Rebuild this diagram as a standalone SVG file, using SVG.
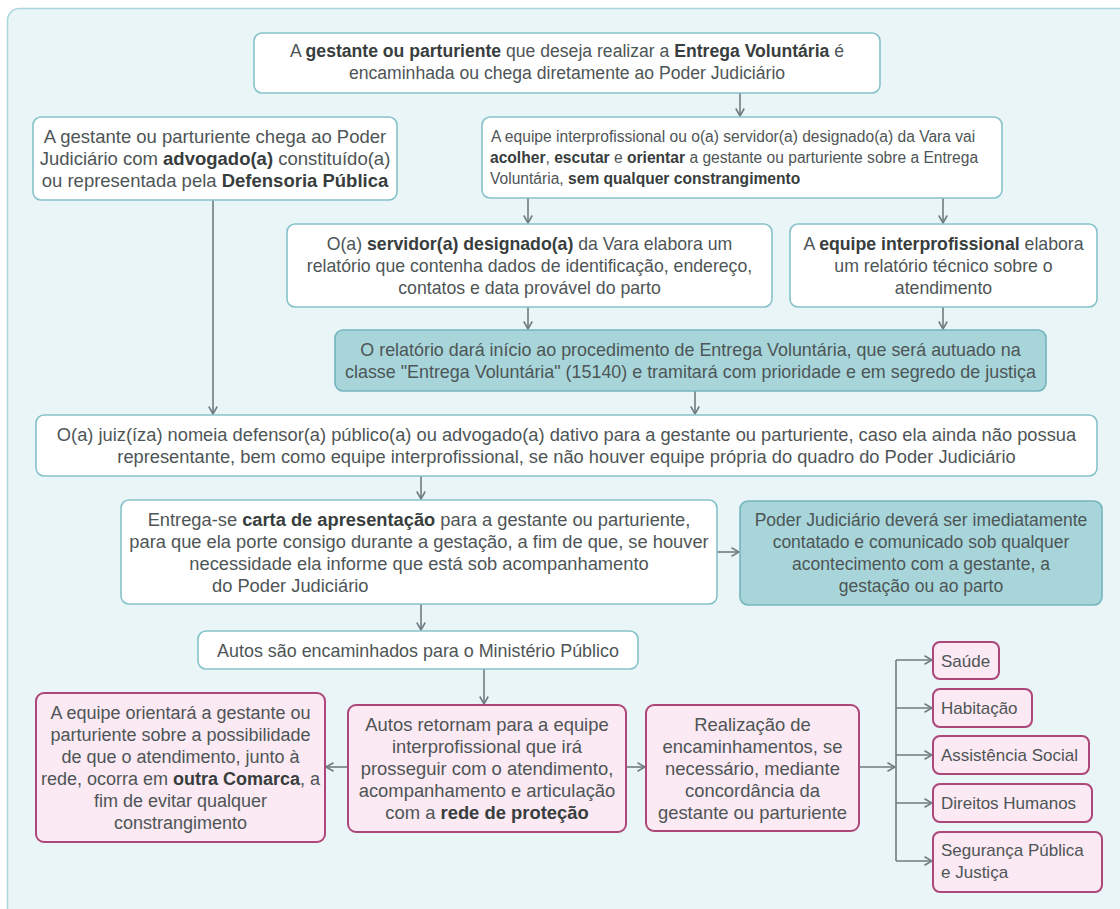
<svg xmlns="http://www.w3.org/2000/svg" width="1120" height="909" viewBox="0 0 1120 909">
  <defs>
    <style>
      text { font-family: "Liberation Sans", Arial, sans-serif; fill: #4e5556; font-size: 18.3px; }
      .c { text-anchor: middle; }
      .s { text-anchor: start; }
      .b { font-weight: bold; fill: #383d3e; }
      .box { fill: #ffffff; stroke: #86c2c9; stroke-width: 1.6; }
      .teal { fill: #a7d5da; stroke: #74b5bd; stroke-width: 1.6; }
      .pink { fill: #fbe9f3; stroke: #ad4679; stroke-width: 2; }
      .edge { fill: none; stroke: #6f7c80; stroke-width: 1.6; }
    </style>
    <marker id="arrow" viewBox="0 0 10 10" refX="9.5" refY="5" markerWidth="10" markerHeight="10" markerUnits="userSpaceOnUse" orient="auto">
      <path d="M2,0.8 L9.5,5 L2,9.2" fill="none" stroke="#6f7c80" stroke-width="1.6"/>
    </marker>
  </defs>

  <!-- page background and panel -->
  <rect x="0" y="0" width="1120" height="909" fill="#ffffff"/>
  <rect x="7.5" y="8.5" width="1140" height="930" rx="12" fill="#eaf5f7" stroke="#a9d6dc" stroke-width="1.5"/>

  <!-- connectors -->
  <g id="connectors">
    <path class="edge" d="M740,93 V116" marker-end="url(#arrow)"/>
    <path class="edge" d="M528,198 V223" marker-end="url(#arrow)"/>
    <path class="edge" d="M943,198 V223" marker-end="url(#arrow)"/>
    <path class="edge" d="M213,200 V414" marker-end="url(#arrow)"/>
    <path class="edge" d="M528,307 V329" marker-end="url(#arrow)"/>
    <path class="edge" d="M943,307 V329" marker-end="url(#arrow)"/>
    <path class="edge" d="M695,391 V414" marker-end="url(#arrow)"/>
    <path class="edge" d="M421,476 V499" marker-end="url(#arrow)"/>
    <path class="edge" d="M717,552 H739" marker-end="url(#arrow)"/>
    <path class="edge" d="M421,604 V630" marker-end="url(#arrow)"/>
    <path class="edge" d="M484,669 V704" marker-end="url(#arrow)"/>
    <path class="edge" d="M348,767 H326" marker-end="url(#arrow)"/>
    <path class="edge" d="M626,767 H645" marker-end="url(#arrow)"/>
    <path class="edge" d="M859,767 H895" marker-end="url(#arrow)"/>
    <path class="edge" d="M896,660 V861"/>
    <path class="edge" d="M896,660 H932" marker-end="url(#arrow)"/>
    <path class="edge" d="M896,708 H932" marker-end="url(#arrow)"/>
    <path class="edge" d="M896,755 H932" marker-end="url(#arrow)"/>
    <path class="edge" d="M896,803 H932" marker-end="url(#arrow)"/>
    <path class="edge" d="M896,861 H932" marker-end="url(#arrow)"/>
  </g>

  <g id="inicio">
    <rect class="box" x="254" y="33" width="626" height="60" rx="8"/>
    <text class="c" x="567" y="57" style="font-size:17.6px">A <tspan class="b">gestante ou parturiente</tspan> que deseja realizar a <tspan class="b">Entrega Voluntária</tspan> é</text>
    <text class="c" x="567" y="79" style="font-size:17.6px">encaminhada ou chega diretamente ao Poder Judiciário</text>
  </g>

  <g id="advogado">
    <rect class="box" x="33" y="117" width="364" height="83" rx="8"/>
    <text class="c" x="215" y="143" style="font-size:18.5px">A gestante ou parturiente chega ao Poder</text>
    <text class="c" x="215" y="165" style="font-size:18.5px">Judiciário com <tspan class="b">advogado(a)</tspan> constituído(a)</text>
    <text class="c" x="215" y="187" style="font-size:18.5px">ou representada pela <tspan class="b">Defensoria Pública</tspan></text>
  </g>

  <g id="acolhimento">
    <rect class="box" x="482" y="117" width="520" height="81" rx="8"/>
    <text class="s" x="491" y="142" style="font-size:15.6px">A equipe interprofissional ou o(a) servidor(a) designado(a) da Vara vai</text>
    <text class="s" x="490" y="163" style="font-size:15.6px"><tspan class="b">acolher</tspan>, <tspan class="b">escutar</tspan> e <tspan class="b">orientar</tspan> a gestante ou parturiente sobre a Entrega</text>
    <text class="s" x="490" y="184" style="font-size:15.6px">Voluntária,  <tspan class="b">sem qualquer constrangimento</tspan></text>
  </g>

  <g id="servidor">
    <rect class="box" x="287" y="224" width="485" height="83" rx="8"/>
    <text class="c" x="529.5" y="250" style="font-size:17.7px">O(a) <tspan class="b">servidor(a) designado(a)</tspan> da Vara elabora um</text>
    <text class="c" x="529.5" y="272" style="font-size:17.7px">relatório que contenha dados de identificação, endereço,</text>
    <text class="c" x="529.5" y="294" style="font-size:17.7px">contatos e data provável do parto</text>
  </g>

  <g id="equipe">
    <rect class="box" x="790" y="224" width="307" height="83" rx="8"/>
    <text class="c" x="943.5" y="250" style="font-size:17.7px">A <tspan class="b">equipe interprofissional</tspan> elabora</text>
    <text class="c" x="943.5" y="272" style="font-size:17.7px">um relatório técnico sobre o</text>
    <text class="c" x="943.5" y="294" style="font-size:17.7px">atendimento</text>
  </g>

  <g id="relatorio">
    <rect class="teal" x="335" y="330" width="711" height="61" rx="8"/>
    <text class="c" x="690.5" y="356" style="font-size:17.9px">O relatório dará início ao procedimento de Entrega Voluntária, que será autuado na</text>
    <text class="c" x="690.5" y="378" style="font-size:17.9px">classe "Entrega Voluntária" (15140) e tramitará com prioridade e em segredo de justiça</text>
  </g>

  <g id="juiz">
    <rect class="box" x="36" y="415" width="1061" height="61" rx="8"/>
    <text class="c" x="566.5" y="441">O(a) juiz(íza) nomeia defensor(a) público(a) ou advogado(a) dativo para a gestante ou parturiente, caso ela ainda não possua</text>
    <text class="c" x="566.5" y="463">representante, bem como equipe interprofissional, se não houver equipe própria do quadro do Poder Judiciário</text>
  </g>

  <g id="carta">
    <rect class="box" x="121" y="500" width="596" height="104" rx="8"/>
    <text class="c" x="419" y="525.5">Entrega-se <tspan class="b">carta de apresentação</tspan> para a gestante ou parturiente,</text>
    <text class="c" x="419" y="547.5">para que ela porte consigo durante a gestação, a fim de que, se houver</text>
    <text class="c" x="419" y="569.5">necessidade ela informe que está sob acompanhamento</text>
    <text class="s" x="212" y="591.5">do Poder Judiciário</text>
  </g>

  <g id="comunicacao">
    <rect class="teal" x="740" y="501" width="362" height="104" rx="8"/>
    <text class="c" x="921" y="526" style="font-size:17.5px">Poder Judiciário deverá ser imediatamente</text>
    <text class="c" x="921" y="548" style="font-size:17.5px">contatado e comunicado sob qualquer</text>
    <text class="c" x="921" y="570" style="font-size:17.5px">acontecimento com a gestante, a</text>
    <text class="c" x="921" y="592" style="font-size:17.5px">gestação ou ao parto</text>
  </g>

  <g id="ministerio">
    <rect class="box" x="198" y="631" width="440" height="38" rx="8"/>
    <text class="c" x="418" y="656.5" style="font-size:17.9px">Autos são encaminhados para o Ministério Público</text>
  </g>

  <g id="retorno">
    <rect class="pink" x="348" y="705" width="278" height="127" rx="8"/>
    <text class="c" x="487" y="731" style="font-size:18.4px">Autos retornam para a equipe</text>
    <text class="c" x="487" y="753" style="font-size:18.4px">interprofissional que irá</text>
    <text class="c" x="487" y="775" style="font-size:18.4px">prosseguir com o atendimento,</text>
    <text class="c" x="487" y="797" style="font-size:18.4px">acompanhamento e articulação</text>
    <text class="c" x="487" y="819" style="font-size:18.4px">com a <tspan class="b">rede de proteção</tspan></text>
  </g>

  <g id="outra-comarca">
    <rect class="pink" x="36" y="693" width="289" height="149" rx="8"/>
    <text class="c" x="180.5" y="719" style="font-size:18px">A equipe orientará a gestante ou</text>
    <text class="c" x="180.5" y="741" style="font-size:18px">parturiente sobre a possibilidade</text>
    <text class="c" x="180.5" y="763" style="font-size:18px">de que o atendimento, junto à</text>
    <text class="c" x="180.5" y="785" style="font-size:18px">rede, ocorra em <tspan class="b">outra Comarca</tspan>, a</text>
    <text class="c" x="180.5" y="807" style="font-size:18px">fim de evitar qualquer</text>
    <text class="c" x="180.5" y="829" style="font-size:18px">constrangimento</text>
  </g>

  <g id="encaminhamentos">
    <rect class="pink" x="646" y="705" width="213" height="126" rx="8"/>
    <text class="c" x="752.5" y="730.5" style="font-size:18.4px">Realização de</text>
    <text class="c" x="752.5" y="752.5" style="font-size:18.4px">encaminhamentos, se</text>
    <text class="c" x="752.5" y="774.5" style="font-size:18.4px">necessário, mediante</text>
    <text class="c" x="752.5" y="796.5" style="font-size:18.4px">concordância da</text>
    <text class="c" x="752.5" y="818.5" style="font-size:18.4px">gestante ou parturiente</text>
  </g>

  <g id="saude">
    <rect class="pink" x="933" y="642" width="66" height="37" rx="7"/>
    <text class="s" x="941" y="666.5" style="font-size:17px">Saúde</text>
  </g>
  <g id="habitacao">
    <rect class="pink" x="933" y="689" width="99" height="38" rx="7"/>
    <text class="s" x="941" y="714" style="font-size:17px">Habitação</text>
  </g>
  <g id="assistencia-social">
    <rect class="pink" x="933" y="736" width="156" height="38" rx="7"/>
    <text class="s" x="941" y="761" style="font-size:17px">Assistência Social</text>
  </g>
  <g id="direitos-humanos">
    <rect class="pink" x="933" y="784" width="159" height="38" rx="7"/>
    <text class="s" x="941" y="809" style="font-size:17px">Direitos Humanos</text>
  </g>
  <g id="seguranca">
    <rect class="pink" x="933" y="832" width="169" height="60" rx="7"/>
    <text class="s" x="941" y="856" style="font-size:17px">Segurança Pública</text>
    <text class="s" x="941" y="878" style="font-size:17px">e Justiça</text>
  </g>
</svg>
